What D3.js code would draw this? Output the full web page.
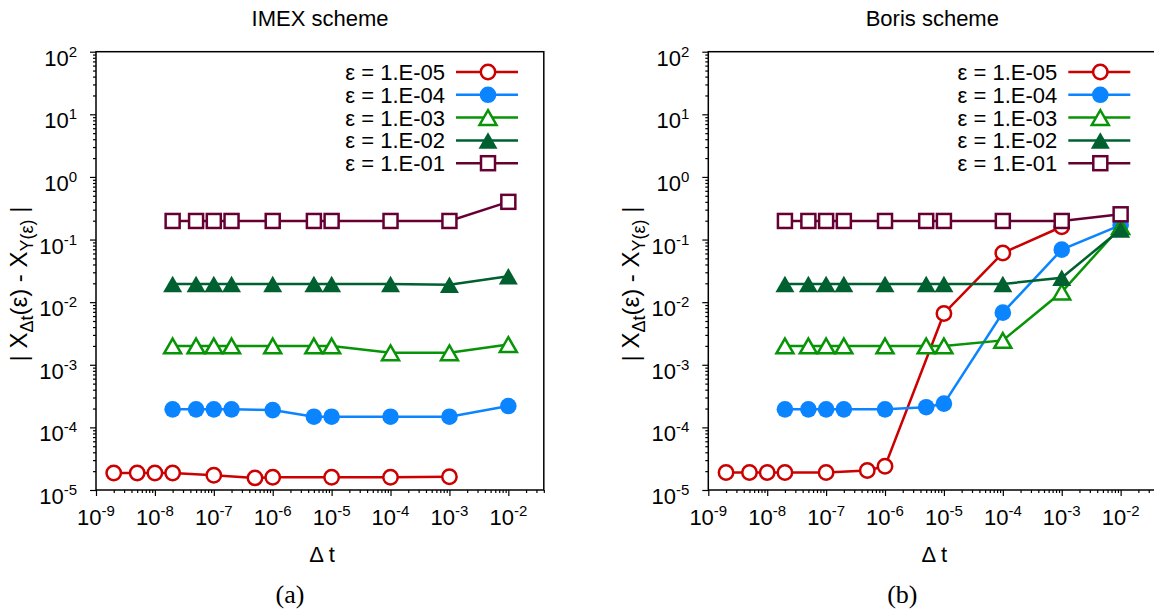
<!DOCTYPE html>
<html>
<head>
<meta charset="utf-8">
<script src="https://cdn.jsdelivr.net/npm/d3@7"></script>
<style>
  body { margin: 0; background: #fff; }
  svg { display: block; font-family: "Liberation Sans", Arial, sans-serif; }
</style>
</head>
<body>
<svg id="chart" width="1154" height="612"></svg>
<script>
// time steps
var dtSmall = [2e-9, 5e-9, 1e-8, 2e-8, 1e-7, 5e-7, 1e-6, 1e-5, 1e-4, 1e-3];
var dtLarge = [2e-8, 5e-8, 1e-7, 2e-7, 1e-6, 5e-6, 1e-5, 1e-4, 1e-3, 1e-2];

var legendLabels = ["ε = 1.E-05", "ε = 1.E-04", "ε = 1.E-03", "ε = 1.E-02", "ε = 1.E-01"];
var xTickExp = [-9, -8, -7, -6, -5, -4, -3, -2];
var yTickExp = [2, 1, 0, -1, -2, -3, -4, -5];

// IMEX scheme errors
var imexE5 = [1.87e-5, 1.87e-5, 1.87e-5, 1.87e-5, 1.72e-5, 1.56e-5, 1.6e-5, 1.6e-5, 1.6e-5, 1.63e-5];
var imexE4 = [1.94e-4, 1.94e-4, 1.94e-4, 1.94e-4, 1.89e-4, 1.48e-4, 1.48e-4, 1.48e-4, 1.48e-4, 2.19e-4];
var imexE3 = [2.0e-3, 2.0e-3, 2.0e-3, 2.0e-3, 2.0e-3, 2.0e-3, 2.0e-3, 1.55e-3, 1.55e-3, 2.1e-3];
var imexE2 = [1.95e-2, 1.95e-2, 1.95e-2, 1.95e-2, 1.95e-2, 1.95e-2, 1.95e-2, 1.95e-2, 1.9e-2, 2.6e-2];
var imexE1 = [0.198, 0.198, 0.198, 0.198, 0.198, 0.198, 0.198, 0.198, 0.198, 0.40];

// Boris scheme errors
var borisE5 = [1.9e-5, 1.9e-5, 1.9e-5, 1.9e-5, 1.9e-5, 2.05e-5, 2.4e-5, 6.6e-3, 6.1e-2, 0.16];
var borisE4 = [1.94e-4, 1.94e-4, 1.94e-4, 1.94e-4, 1.94e-4, 2.1e-4, 2.4e-4, 6.8e-3, 6.9e-2, 0.17];
var borisE3 = [2.0e-3, 2.0e-3, 2.0e-3, 2.0e-3, 2.0e-3, 2.0e-3, 2.0e-3, 2.45e-3, 1.45e-2, 0.16];
var borisE2 = [1.95e-2, 1.95e-2, 1.95e-2, 1.95e-2, 1.95e-2, 1.95e-2, 1.95e-2, 1.95e-2, 2.45e-2, 0.145];
var borisE1 = [0.198, 0.198, 0.198, 0.198, 0.198, 0.198, 0.198, 0.198, 0.198, 0.253];

var styles = [
  { color: "#cc0000", shape: "circle", fill: false },
  { color: "#0a85ff", shape: "circle", fill: true },
  { color: "#079407", shape: "triangle", fill: false },
  { color: "#00602f", shape: "triangle", fill: true },
  { color: "#660033", shape: "square", fill: false }
];

var svg = d3.select("#chart");

function marker(g, shape, fill, color, cx, cy) {
  var m;
  if (shape === "circle") {
    m = g.append("circle").attr("cx", cx).attr("cy", cy).attr("r", fill ? 8.3 : 7.2);
  } else if (shape === "square") {
    m = g.append("rect").attr("x", cx - 7).attr("y", cy - 7).attr("width", 14).attr("height", 14);
  } else {
    var s = fill ? 19 : 17, h = s * 0.866;
    m = g.append("path").attr("d", "M" + cx + "," + (cy - h / 2) + "L" + (cx + s / 2) + "," + (cy + h / 2) +
      "L" + (cx - s / 2) + "," + (cy + h / 2) + "Z");
  }
  m.attr("fill", fill ? color : "#fff")
    .attr("stroke", color)
    .attr("stroke-width", fill ? 0 : 2.5);
}

function drawPanel(left, title, sub, series) {
  var x = d3.scaleLog().domain([1e-9, 0.04]).range([left, left + 447.8]);
  var y = d3.scaleLog().domain([1e-5, 100]).range([490, 51.7]);

  var minorX = [], minorY = [];
  for (var e = -9; e <= -2; e++) {
    for (var k = 2; k <= 9; k++) {
      var v = k * Math.pow(10, e);
      if (v <= 0.04) minorX.push(v);
    }
  }
  for (var e2 = -5; e2 < 2; e2++) {
    for (var k2 = 2; k2 <= 9; k2++) minorY.push(k2 * Math.pow(10, e2));
  }
  var majX = xTickExp.map(function (d) { return Math.pow(10, d); });
  var majY = yTickExp.map(function (d) { return Math.pow(10, d); });

  var g = svg.append("g");

  // axes ticks
  g.append("g").attr("transform", "translate(0,490)")
    .call(d3.axisBottom(x).tickValues(majX).tickFormat("").tickSize(6).tickSizeOuter(0));
  g.append("g").attr("transform", "translate(0,490)")
    .call(d3.axisBottom(x).tickValues(minorX).tickFormat("").tickSize(3).tickSizeOuter(0));
  g.append("g").attr("transform", "translate(" + left + ",0)")
    .call(d3.axisLeft(y).tickValues(majY).tickFormat("").tickSize(6).tickSizeOuter(0));
  g.append("g").attr("transform", "translate(" + left + ",0)")
    .call(d3.axisLeft(y).tickValues(minorY).tickFormat("").tickSize(3).tickSizeOuter(0));
  g.selectAll(".domain").remove();
  g.selectAll(".tick line").attr("stroke", "#000").attr("stroke-width", 1.2);

  // frame
  g.append("rect").attr("x", left).attr("y", 51.7)
    .attr("width", 447.8).attr("height", 490 - 51.7)
    .attr("fill", "none").attr("stroke", "#000").attr("stroke-width", 1.5);

  // tick labels
  xTickExp.forEach(function (d) {
    var t = g.append("text").attr("x", x(Math.pow(10, d))).attr("y", 525)
      .attr("text-anchor", "middle").style("font-size", "22px");
    t.append("tspan").text("10");
    t.append("tspan").attr("dy", -9).style("font-size", "15px").text(d);
  });
  yTickExp.forEach(function (d) {
    var t = g.append("text").attr("x", left - 19).attr("y", y(Math.pow(10, d)) + 14)
      .attr("text-anchor", "end").style("font-size", "22px");
    t.append("tspan").text("10");
    t.append("tspan").attr("dy", -9).style("font-size", "15px").text(d);
  });

  // titles and labels
  g.append("text").attr("x", left + 224).attr("y", 26).attr("text-anchor", "middle")
    .style("font-size", "22px").text(title);
  g.append("text").attr("x", left + 226).attr("y", 562).attr("text-anchor", "middle")
    .style("font-size", "22px").text("Δ t");
  g.append("text").attr("x", left + 194).attr("y", 603).attr("text-anchor", "middle")
    .style("font-family", "'Liberation Serif', 'DejaVu Serif', serif").style("font-size", "26px").text(sub);

  var yl = g.append("text")
    .attr("transform", "translate(" + (left - 69) + ",284) rotate(-90)")
    .attr("text-anchor", "middle").style("font-size", "24px");
  yl.append("tspan").text("| X");
  yl.append("tspan").attr("dy", 6).style("font-size", "18px").text("Δt");
  yl.append("tspan").attr("dy", -6).text("(ε) - X");
  yl.append("tspan").attr("dy", 6).style("font-size", "18px").text("Y(ε)");
  yl.append("tspan").attr("dy", -6).text(" |");

  // data
  var line = d3.line().x(function (d) { return x(d[0]); }).y(function (d) { return y(d[1]); });
  series.forEach(function (s, i) {
    var st = styles[i];
    var pts = s.dt.map(function (d, j) { return [d, s.err[j]]; });
    var sg = g.append("g");
    sg.append("path").datum(pts).attr("d", line)
      .attr("fill", "none").attr("stroke", st.color).attr("stroke-width", 2.5);
    pts.forEach(function (p) { marker(sg, st.shape, st.fill, st.color, x(p[0]), y(p[1])); });
  });

  // legend
  legendLabels.forEach(function (lab, i) {
    var st = styles[i], ly = 72 + i * 22.8;
    g.append("text").attr("x", left + 349).attr("y", ly + 8).attr("text-anchor", "end")
      .style("font-size", "22px").text(lab);
    g.append("line").attr("x1", left + 360).attr("x2", left + 422)
      .attr("y1", ly).attr("y2", ly).attr("stroke", st.color).attr("stroke-width", 2.5);
    marker(g, st.shape, st.fill, st.color, left + 392, ly);
  });
}

drawPanel(96, "IMEX scheme", "(a)", [
  { dt: dtSmall, err: imexE5 },
  { dt: dtLarge, err: imexE4 },
  { dt: dtLarge, err: imexE3 },
  { dt: dtLarge, err: imexE2 },
  { dt: dtLarge, err: imexE1 }
]);

drawPanel(708.3, "Boris scheme", "(b)", [
  { dt: dtSmall, err: borisE5 },
  { dt: dtLarge, err: borisE4 },
  { dt: dtLarge, err: borisE3 },
  { dt: dtLarge, err: borisE2 },
  { dt: dtLarge, err: borisE1 }
]);
</script>
</body>
</html>
